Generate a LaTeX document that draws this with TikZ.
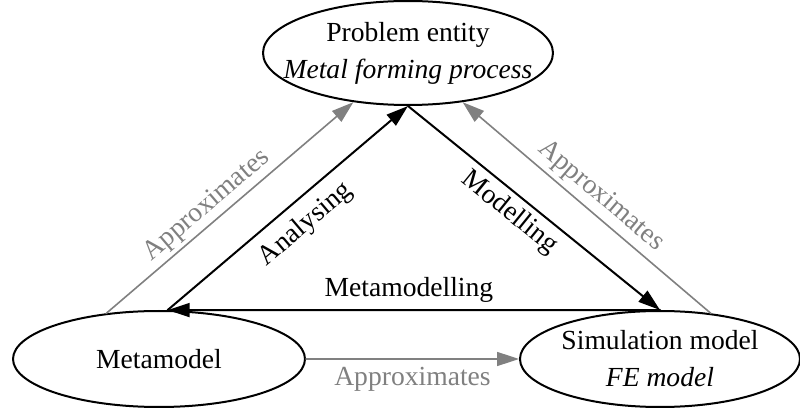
\documentclass[tikz,border=0pt]{standalone}
\usepackage{fontspec}
\setmainfont{Liberation Serif}
\usetikzlibrary{arrows.meta,shapes.geometric}
\definecolor{approxgray}{RGB}{128,128,128}
\tikzset{
  entity/.style={draw,ellipse,line width=1pt,inner sep=0pt,align=center},
  flow/.style={line width=1pt},
  approx/.style={line width=0.8pt,approxgray},
  lbl/.style={inner sep=1pt}
}

\begin{document}
\begin{tikzpicture}[x=0.5pt,y=0.5pt,>={Triangle[length=11pt,width=7pt]},
  line cap=round,line join=round,font=\fontsize{13.8}{18.5}\selectfont]
 \useasboundingbox (0,0) rectangle (800,408);
 % the three entities
 \node[entity,inner xsep=-11.2pt,minimum width=145pt,minimum height=52pt] (prob) at (408,355)
  {Problem entity\\\textit{Metal forming process}};
 \node[entity,minimum width=146pt,minimum height=48pt] (meta) at (159,49)
  {Metamodel};
 \node[entity,minimum width=140pt,minimum height=48pt] (sim) at (660,49)
  {Simulation model\\\textit{FE model}};
 % activities
 \draw[flow,->] (meta.80) -- node[lbl,sloped,below=4.3pt,pos=.51] {Analysing} (prob.270);
 \draw[flow,->] (prob.270) -- node[lbl,sloped,below=1.8pt,pos=.45] {Modelling} (sim.north);
 \draw[flow,<-] (meta.80) -- node[lbl,above=2.2pt,pos=.49] {Metamodelling} (sim.north);
 % approximations
 \draw[approx,->] (meta.139) -- node[lbl,sloped,above=.6pt,pos=.45] {Approximates} (prob.222);
 \draw[approx,<-] (prob.318) -- node[lbl,sloped,above=1.5pt,pos=.51] {Approximates} (sim.42);
 \draw[approx,->] (meta.east) -- node[lbl,below=2.7pt] {Approximates} (sim.west);
\end{tikzpicture}
\end{document}
